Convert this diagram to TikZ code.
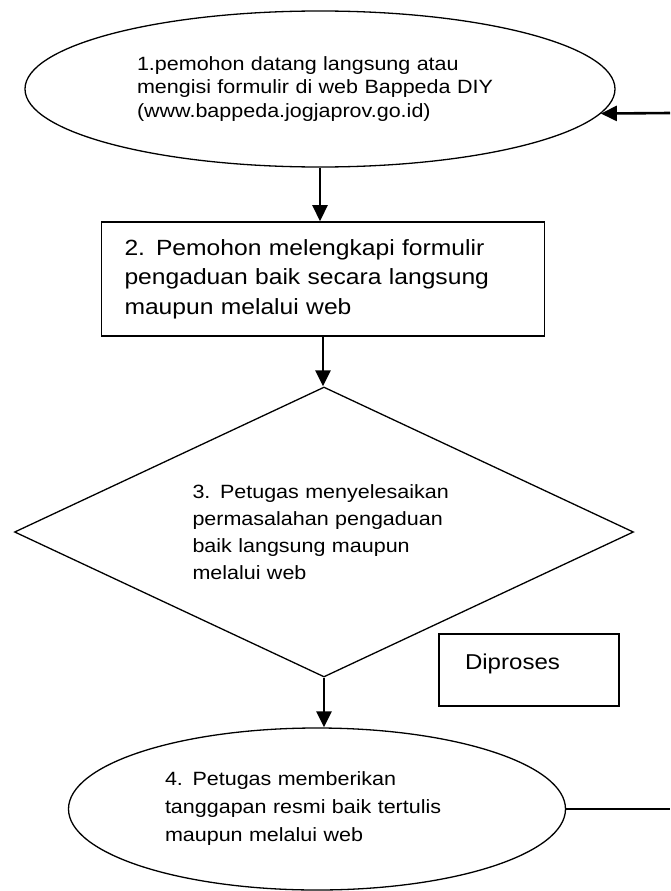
\documentclass[tikz,border=0pt]{standalone}
\usepackage{fontspec}
\setmainfont{Liberation Sans}[FakeStretch=1.12]
\usetikzlibrary{shapes.geometric,arrows.meta}

\begin{document}
\begin{tikzpicture}[x=1pt,y=-1pt,
    oval/.style={draw, ellipse, line width=1.3pt, inner sep=0pt, align=left},
    stepbox/.style={draw, rectangle, line width=1.6pt, align=left},
    decide/.style={draw, diamond, aspect=2.13, line width=1.3pt, inner sep=0pt, align=left},
    flow/.style={line width=2.6pt, -{Triangle[width=15pt,length=16pt]}},
    back/.style={line width=1.2pt}]
    % Fix the canvas
    \useasboundingbox (0,0) rectangle (670,891);
    % Draw the steps
    \node[oval, minimum width=590pt, minimum height=156pt, text width=366pt,
          font=\fontsize{19.2}{23.5}\selectfont] (e1) at (320,89)
        {1.pemohon datang langsung atau\\mengisi formulir di web Bappeda DIY\\(www.bappeda.jogjaprov.go.id)};
    \node[stepbox, minimum width=443pt, minimum height=114pt, text width=397pt,
          inner xsep=23pt, font=\fontsize{22}{29.5}\selectfont] (box2) at (323,279)
        {2. Pemohon melengkapi formulir\\pengaduan baik secara langsung\\maupun melalui web};
    \node[decide, minimum width=619pt, minimum height=290pt, text width=263pt,
          font=\fontsize{19.2}{27}\selectfont] (q3) at (324,532)
        {3. Petugas menyelesaikan\\permasalahan pengaduan\\baik langsung maupun\\melalui web};
    \node[oval, minimum width=497pt, minimum height=162pt, text width=304pt,
          font=\fontsize{19.2}{28}\selectfont] (e4) at (317,809)
        {4. Petugas memberikan\\tanggapan resmi baik tertulis\\maupun melalui web};
    % Side label
    \node[stepbox, line width=1.3pt, minimum width=180pt, minimum height=72pt, text width=128pt,
          inner xsep=26pt, text height=16pt, text depth=18pt,
          font=\fontsize{21.5}{26}\selectfont] (proc) at (529,670) {Diproses};
    % Draw the flow
    \draw[flow] (e1.south) -- (e1.south |- box2.north);
    \draw[flow] (box2.south) -- (box2.south |- q3.north);
    \draw[flow] (q3.south) -- (q3.south |- e4.north);
    % Loop back to the start
    \coordinate (r4) at (670,809);
    \coordinate (r1) at (670,113);
    \draw[back] (e4.east) -- (r4);
    \draw[flow] (r1) -- (e1.-5);
\end{tikzpicture}
\end{document}
